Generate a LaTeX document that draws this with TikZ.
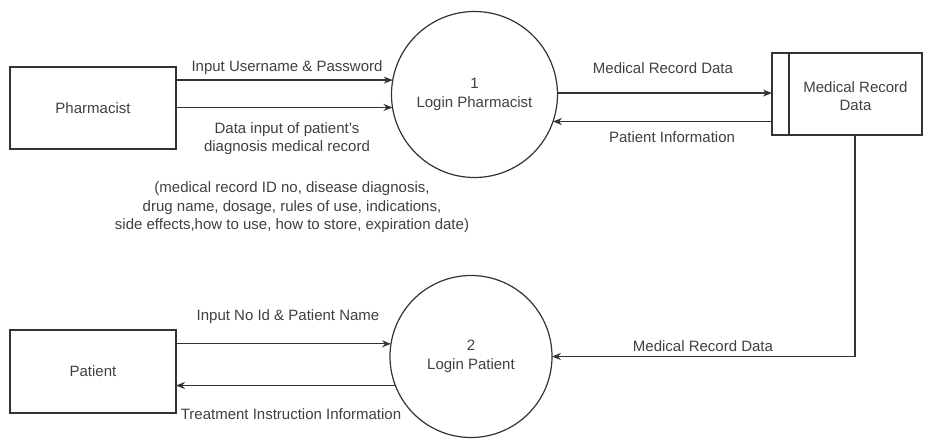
\documentclass[tikz,border=0pt]{standalone}
\usepackage{fontspec}
\setmainfont{Liberation Sans}
\usetikzlibrary{arrows.meta,calc}
\definecolor{linec}{HTML}{333333}
\definecolor{textc}{HTML}{404040}
\begin{document}
\begin{tikzpicture}[x=1pt,y=-1pt,
  every node/.style={font=\fontsize{15}{18.5}\selectfont, text=textc, inner sep=0pt, outer sep=0pt},
  ext/.style={draw=linec, line width=1.2pt, minimum width=166pt, minimum height=82pt},
  proc/.style={draw=linec, line width=1.2pt, circle, align=center, font=\fontsize{15}{19.5}\selectfont},
  flow/.style={draw=linec, line width=1.2pt, -{Stealth[length=9pt,width=7pt]}},
  lbl/.style={align=center}]
\useasboundingbox (0,0) rectangle (927,439);
\fill[white] (0,0) rectangle (927,439);

\node[ext] (pharm) at (93,108) {Pharmacist};
\node[proc, minimum size=166pt] (p1) at (474.5,94.5) {1\\Login Pharmacist};
\node[draw=linec, line width=1.2pt, minimum width=150pt, minimum height=82pt] (store) at (847,94) {};
\node[lbl] (storet) at (855.5,96) {Medical Record\\Data};
\draw[linec, line width=1.2pt] ([xshift=17pt]store.north west) -- ([xshift=17pt]store.south west);
\node[ext, minimum height=83pt] (pat) at (93,371.5) {Patient};
\node[proc, minimum size=162pt] (p2) at (471,356.5) {2\\Login Patient};

\draw[flow] (pharm.east |- p1.170) -- (p1.170);
\draw[flow] (pharm.east |- p1.189) -- (p1.189);
\draw[flow] (p1.1) -- (store.west |- p1.1);
\draw[flow] (store.west |- p1.341) -- (p1.341);
\draw[flow] (pat.east |- p2.171) -- (p2.171);
\draw[flow] (p2.201) -- (pat.east |- p2.201);
\draw[flow] ([xshift=8pt]store.south) |- (p2.east);

\node[lbl] (l1) at (287,68) {Input Username \& Password};
\node[lbl, font=\fontsize{15}{18}\selectfont] (l2) at (287,139) {Data input of patient's\\diagnosis medical record};
\node[lbl] (l3) at (663,68) {Medical Record Data};
\node[lbl] (l4) at (672,137) {Patient Information};
\node[lbl] (l5) at (292,207.5) {(medical record ID no, disease diagnosis,\\drug name, dosage, rules of use, indications,\\side effects,how to use, how to store, expiration date)};
\node[lbl] (l6) at (288,317) {Input No Id \& Patient Name};
\node[lbl] (l7) at (291,414) {Treatment Instruction Information};
\node[lbl] (l8) at (703,346) {Medical Record Data};
\end{tikzpicture}
\end{document}
